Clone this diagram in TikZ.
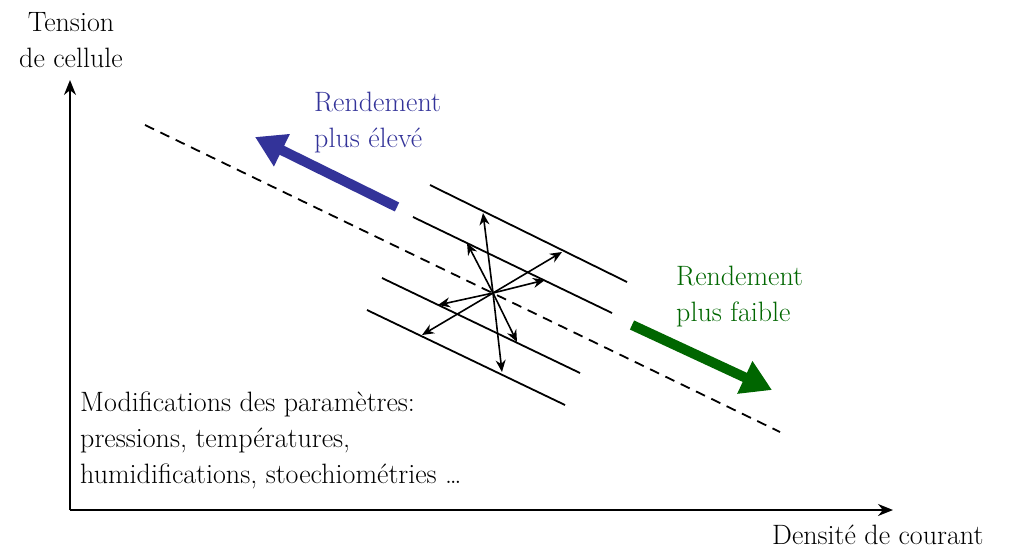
\documentclass[tikz,border=0pt]{standalone}
\usepackage{amsmath}
\usetikzlibrary{arrows.meta, positioning}
\definecolor{rendbleu}{RGB}{51,51,153}
\definecolor{rendvert}{RGB}{0,102,0}
\tikzset{
  axe/.style = {line width=1.8pt, -{Stealth[length=15pt,width=12pt]}},
  param/.style = {line width=1.8pt},
  modif/.style = {line width=1.6pt, -{Stealth[length=12pt,width=10pt]}},
  tendance/.style = {line width=10pt, -{Triangle[length=30pt,width=34pt]}},
  texte/.style = {inner sep=0pt, align=left, font=\fontsize{28}{36}\selectfont},
}

\begin{document}
\begin{tikzpicture}[x=1pt, y=-1pt]

   \useasboundingbox (0,0) rectangle (1019,549);

   % Axes
   \coordinate (origine) at (70,510);
   \coordinate (ytip) at (70,80);
   \coordinate (xtip) at (893,510);
   \draw[axe] (origine) -- (ytip);
   \draw[axe] (origine) -- (xtip);
   \node[texte, align=center] (tension) at (71,40) {Tension\\de cellule};
   \node[texte, anchor=west] (densite) at (772,535) {Densit\'e de courant};

   % Dashed reference line
   \coordinate (ref1) at (145,125);
   \coordinate (ref2) at (780,432);
   \draw[param, dashed, dash pattern=on 10pt off 7pt] (ref1) -- (ref2);

   % Parallel lines (parameter changes)
   \coordinate (l1a) at (430,185); \coordinate (l1b) at (627,282);
   \coordinate (l2a) at (413,217); \coordinate (l2b) at (612,313);
   \coordinate (l3a) at (382,278); \coordinate (l3b) at (580,373);
   \coordinate (l4a) at (367,310); \coordinate (l4b) at (565,405);
   \draw[param] (l1a) -- (l1b);
   \draw[param] (l2a) -- (l2b);
   \draw[param] (l3a) -- (l3b);
   \draw[param] (l4a) -- (l4b);

   % Star of arrows
   \coordinate (centre) at (493,293);
   \coordinate (pa) at (483,213);
   \coordinate (pb) at (467,243);
   \coordinate (pc) at (562,252);
   \coordinate (pd) at (545,280);
   \coordinate (pe) at (438,305);
   \coordinate (pf) at (422,335);
   \coordinate (pg) at (517,342);
   \coordinate (ph) at (502,372);
   \foreach \p in {pa,pb,pc,pd,pe,pf,pg,ph}
     \draw[modif] (centre) -- (\p);

   % Efficiency arrows
   \coordinate (bleu1) at (397,207);
   \coordinate (bleu2) at (255,137);
   \draw[tendance, rendbleu] (bleu1) -- (bleu2);
   \node[texte, rendbleu, anchor=west] (eleve) at (314,123) {Rendement\\plus \'elev\'e};

   \coordinate (vert1) at (632,325);
   \coordinate (vert2) at (772,390);
   \draw[tendance, rendvert] (vert1) -- (vert2);
   \node[texte, rendvert, anchor=west] (faible) at (676,297) {Rendement\\plus faible};

   % Parameters
   \node[texte, anchor=west] (params) at (80,440) {Modifications des param\`etres:\\pressions, temp\'eratures,\\humidifications, stoechiom\'etries \dots};

\end{tikzpicture}
\end{document}
